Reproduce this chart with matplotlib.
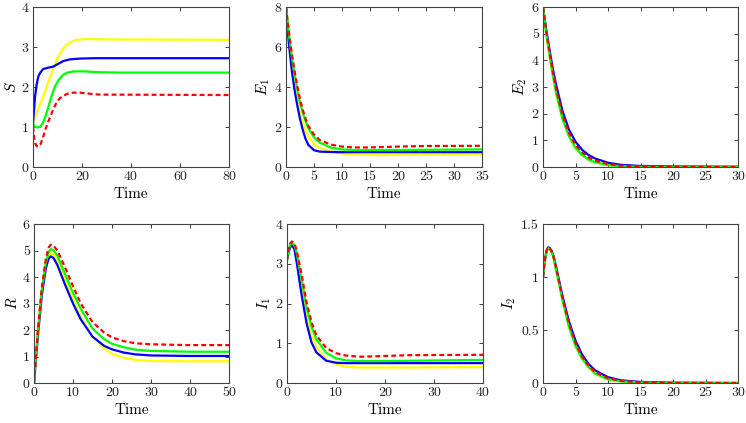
import matplotlib
matplotlib.use('Agg')
import matplotlib.pyplot as plt

plt.rcParams['font.family'] = 'serif'
plt.rcParams['font.serif'] = ['cmr10', 'DejaVu Serif']
plt.rcParams['mathtext.fontset'] = 'cm'
plt.rcParams['axes.formatter.use_mathtext'] = True

# colores y estilos de las cuatro curvas
colores = ['#ffff00', '#0000ff', '#00ff00', '#ff0000']

# S(t)
t_S = {
    'y': [0, 1, 2, 4, 6, 8, 10, 12, 14, 16, 18, 22, 30, 80],
    'b': [0, 0.4, 0.8, 1.5, 2.2, 3, 3.5, 4.2, 6, 8.3, 10, 12.4, 15, 19, 25, 80],
    'g': [0, 0.7, 1.5, 2.9, 4, 5, 6, 7, 8, 9, 10.5, 12.4, 14, 16.5, 21, 27, 35, 80],
    'r': [0, 0.5, 1, 1.5, 2.2, 3, 4, 5, 6, 7, 8.3, 9.7, 11, 12.4, 14, 16.5, 19, 22, 27, 80],
}
S = {
    'y': [1.1, 1.28, 1.43, 1.72, 2.08, 2.42, 2.72, 2.93, 3.07, 3.14, 3.18, 3.2, 3.19, 3.18],
    'b': [1.1, 1.4, 1.74, 2.07, 2.27, 2.36, 2.4, 2.45, 2.48, 2.51, 2.57, 2.65, 2.69, 2.71, 2.72, 2.72],
    'g': [1.08, 1.01, 0.99, 1.0, 1.1, 1.25, 1.45, 1.66, 1.85, 2.02, 2.18, 2.31, 2.36, 2.39, 2.39, 2.37, 2.36, 2.36],
    'r': [1.0, 0.72, 0.58, 0.52, 0.51, 0.56, 0.72, 0.93, 1.1, 1.25, 1.45, 1.62, 1.72, 1.78, 1.83, 1.86, 1.86, 1.84, 1.81, 1.8],
}

# E1(t)
t_E1 = [0, 0.5, 1, 1.5, 2, 2.5, 3, 3.5, 4, 5, 6, 8, 10, 12, 15, 20, 25, 35]
E1 = {
    'y': [8, 6.4, 5.1, 4.1, 3.3, 2.7, 2.2, 1.8, 1.5, 1.15, 0.95, 0.78, 0.67, 0.62, 0.6, 0.6, 0.61, 0.62],
    'b': [8, 6.2, 4.9, 3.9, 3.1, 2.4, 1.85, 1.4, 1.1, 0.84, 0.77, 0.75, 0.74, 0.74, 0.74, 0.74, 0.74, 0.74],
    'g': [8, 6.7, 5.6, 4.7, 3.9, 3.2, 2.7, 2.3, 1.95, 1.48, 1.22, 0.97, 0.88, 0.85, 0.85, 0.85, 0.86, 0.88],
    'r': [8, 6.8, 5.75, 4.85, 4.05, 3.4, 2.85, 2.4, 2.05, 1.62, 1.35, 1.12, 1.02, 0.98, 0.98, 1.02, 1.05, 1.06],
}

# E2(t)
t_E2 = [0, 0.5, 1, 1.5, 2, 3, 4, 5, 6, 7, 8, 10, 12, 15, 20, 30]
E2 = {
    'y': [6, 5.0, 4.2, 3.45, 2.8, 1.8, 1.15, 0.72, 0.45, 0.28, 0.18, 0.07, 0.03, 0.01, 0.0, 0.0],
    'b': [6, 5.15, 4.4, 3.7, 3.1, 2.1, 1.4, 0.95, 0.65, 0.45, 0.32, 0.16, 0.08, 0.04, 0.02, 0.01],
    'g': [6, 5.0, 4.2, 3.45, 2.8, 1.8, 1.15, 0.72, 0.45, 0.28, 0.18, 0.07, 0.03, 0.01, 0.0, 0.0],
    'r': [6, 5.08, 4.3, 3.58, 2.95, 1.95, 1.28, 0.83, 0.55, 0.36, 0.24, 0.11, 0.05, 0.02, 0.01, 0.0],
}

# R(t)
t_R = [0, 1, 2, 3, 3.7, 4.3, 5, 6, 8, 10, 12, 15, 18, 20, 23, 26, 30, 40, 50]
R = {
    'y': [0, 1.9, 3.4, 4.4, 4.78, 4.9, 4.85, 4.6, 3.9, 3.15, 2.5, 1.75, 1.3, 1.1, 0.95, 0.87, 0.83, 0.82, 0.82],
    'b': [0, 1.8, 3.3, 4.3, 4.68, 4.78, 4.72, 4.45, 3.7, 3.0, 2.4, 1.75, 1.4, 1.27, 1.15, 1.08, 1.04, 1.02, 1.02],
    'g': [0, 1.95, 3.5, 4.5, 4.92, 5.05, 5.02, 4.8, 4.1, 3.4, 2.8, 2.05, 1.65, 1.48, 1.35, 1.26, 1.21, 1.18, 1.18],
    'r': [0, 2.0, 3.6, 4.65, 5.1, 5.22, 5.18, 5.0, 4.35, 3.65, 3.0, 2.3, 1.9, 1.72, 1.58, 1.5, 1.46, 1.43, 1.43],
}

# I1(t)
t_I1 = [0, 0.3, 0.6, 1, 1.5, 2, 3, 4, 5, 6, 8, 10, 12, 15, 20, 25, 40]
I1 = {
    'y': [3.1, 3.3, 3.44, 3.5, 3.42, 3.17, 2.4, 1.7, 1.2, 0.9, 0.6, 0.47, 0.41, 0.39, 0.39, 0.39, 0.4],
    'b': [3.1, 3.28, 3.4, 3.47, 3.37, 3.02, 2.2, 1.5, 1.02, 0.77, 0.56, 0.51, 0.5, 0.5, 0.5, 0.5, 0.5],
    'g': [3.1, 3.32, 3.47, 3.53, 3.47, 3.27, 2.6, 1.9, 1.42, 1.1, 0.76, 0.62, 0.57, 0.55, 0.55, 0.56, 0.58],
    'r': [3.1, 3.35, 3.5, 3.56, 3.52, 3.32, 2.72, 2.02, 1.53, 1.2, 0.88, 0.75, 0.69, 0.66, 0.68, 0.7, 0.71],
}

# I2(t)
t_I2 = [0, 0.2, 0.4, 0.6, 0.8, 1.0, 1.3, 1.6, 2, 2.5, 3, 4, 5, 6, 7, 8, 10, 12, 15, 20, 30]
I2 = {
    'y': [1.0, 1.12, 1.2, 1.25, 1.27, 1.265, 1.24, 1.19, 1.07, 0.93, 0.78, 0.53, 0.35, 0.23, 0.15, 0.09, 0.035, 0.015, 0.005, 0.0, 0.0],
    'b': [1.0, 1.12, 1.2, 1.255, 1.28, 1.275, 1.25, 1.2, 1.1, 0.96, 0.82, 0.58, 0.4, 0.27, 0.18, 0.12, 0.055, 0.025, 0.01, 0.003, 0.0],
    'g': [1.0, 1.12, 1.2, 1.25, 1.27, 1.265, 1.24, 1.19, 1.07, 0.93, 0.78, 0.53, 0.35, 0.23, 0.15, 0.09, 0.035, 0.015, 0.005, 0.0, 0.0],
    'r': [1.0, 1.12, 1.21, 1.26, 1.28, 1.27, 1.245, 1.195, 1.09, 0.945, 0.8, 0.56, 0.38, 0.25, 0.165, 0.105, 0.045, 0.02, 0.007, 0.0, 0.0],
}

paneles = [
    (t_S, S, '$S$', (0, 80), (0, 4), [0, 20, 40, 60, 80], [0, 1, 2, 3, 4]),
    (t_E1, E1, '$E_1$', (0, 35), (0, 8), [0, 5, 10, 15, 20, 25, 30, 35], [0, 2, 4, 6, 8]),
    (t_E2, E2, '$E_2$', (0, 30), (0, 6), [0, 5, 10, 15, 20, 25, 30], [0, 1, 2, 3, 4, 5, 6]),
    (t_R, R, '$R$', (0, 50), (0, 6), [0, 10, 20, 30, 40, 50], [0, 1, 2, 3, 4, 5, 6]),
    (t_I1, I1, '$I_1$', (0, 40), (0, 4), [0, 10, 20, 30, 40], [0, 1, 2, 3, 4]),
    (t_I2, I2, '$I_2$', (0, 30), (0, 1.5), [0, 5, 10, 15, 20, 25, 30], [0, 0.5, 1, 1.5]),
]

# posiciones de los ejes en pixeles (izq, arriba, der, abajo)
W, H = 746, 423
cajas = [
    (33, 7, 229, 167), (286, 7, 482, 167), (543, 7, 738, 167),
    (34, 224, 229, 383), (287, 224, 483, 383), (543, 224, 738, 383),
]

fig = plt.figure(figsize=(W / 100, H / 100), dpi=100)
for (tt, datos, etiqueta, xl, yl, xt, yt), (x0, y0, x1, y1) in zip(paneles, cajas):
    ax = fig.add_axes([x0 / W, 1 - y1 / H, (x1 - x0) / W, (y1 - y0) / H])
    for clave, c in zip(['y', 'b', 'g', 'r'], colores):
        t = tt[clave] if isinstance(tt, dict) else tt
        if clave == 'r':
            ax.plot(t, datos[clave], color=c, lw=1.6, ls=(0, (2.2, 1.4)))
        else:
            ax.plot(t, datos[clave], color=c, lw=1.6)
    ax.set_xlim(*xl)
    ax.set_ylim(*yl)
    ax.set_xticks(xt)
    ax.set_yticks(yt)
    ax.set_xticklabels([str(v) for v in xt])
    ax.set_yticklabels([('%g' % v) for v in yt])
    ax.tick_params(direction='in', top=True, right=True, length=3, width=0.6,
                   labelsize=10, colors='#222222', pad=3)
    for s in ax.spines.values():
        s.set_color('#444444')
        s.set_linewidth(0.8)
    ax.set_xlabel('Time', fontsize=11, labelpad=3)
    ax.set_ylabel(etiqueta, fontsize=11, labelpad=2)

fig.savefig('out.png', dpi=100)
